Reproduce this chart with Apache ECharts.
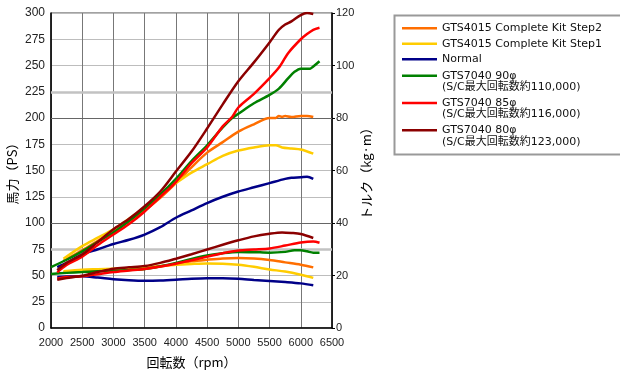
<!DOCTYPE html>
<html>
<head>
<meta charset="utf-8">
<script src="https://cdn.jsdelivr.net/npm/echarts@6/dist/echarts.min.js"></script>
<style>html,body{margin:0;padding:0;background:#fff;}#c{width:620px;height:375px;}</style>
</head>
<body>
<div id="c"></div>
<script>
// ---- data (rpm, value) ----
const nameStep2 = 'GTS4015 Complete Kit Step2';
const nameStep1 = 'GTS4015 Complete Kit Step1';
const nameNormal = 'Normal';
const name90 = 'GTS7040 90φ\n(S/C最大回転数約110,000)';
const name85 = 'GTS7040 85φ\n(S/C最大回転数約116,000)';
const name80 = 'GTS7040 80φ\n(S/C最大回転数約123,000)';

const xTicks = [2000, 6500, 500];
const psTicks = [0, 300, 25];
const tqTicks = [0, 120, 20];

const psStep2 = [[2200,64],[2500,74],[2750,83],[3000,92],[3250,102],[3500,112],[3750,124],[4000,138],[4250,153],[4500,167],[4750,177],[5000,187],[5250,194],[5500,200],[5600,200],[5650,202],[5700,201],[5750,202],[5850,201],[6000,202],[6100,202],[6200,201]];
const tqStep2 = [[2200,21.2],[2500,21.8],[2750,22.1],[3000,22.3],[3250,22.4],[3500,22.6],[3750,23.4],[4000,24.5],[4250,25.4],[4500,26.0],[4750,26.5],[5000,26.7],[5250,26.5],[5500,25.9],[5750,25.0],[6000,24.1],[6200,23.1]];

const psStep1 = [[2200,66],[2500,78],[2750,86],[3000,94],[3250,104],[3500,115],[3750,127],[4000,138],[4250,148],[4500,156],[4750,164],[5000,169],[5250,172],[5500,174],[5600,174],[5700,172],[5850,171],[6000,170],[6200,166]];
const tqStep1 = [[2200,21.6],[2500,22.2],[2750,22.4],[3000,22.6],[3250,22.8],[3500,23.1],[3750,23.6],[4000,24.1],[4250,24.4],[4500,24.6],[4750,24.5],[5000,24.1],[5250,23.3],[5500,22.3],[5750,21.5],[6000,20.3],[6200,19.1]];

const psNormal = [[2100,58],[2250,62],[2500,70],[2750,75],[3000,80],[3250,84],[3500,89],[3750,96],[4000,105],[4250,112],[4500,119],[4750,125],[5000,130],[5250,134],[5500,138],[5750,142],[5850,143],[6000,143.5],[6100,144],[6200,142]];
const tqNormal = [[2100,19.4],[2250,19.6],[2500,19.7],[2750,19.2],[3000,18.6],[3250,18.2],[3500,18.0],[3750,18.1],[4000,18.4],[4250,18.8],[4500,19.0],[4750,19.0],[5000,18.8],[5250,18.3],[5500,17.9],[5750,17.5],[6000,17.0],[6200,16.3]];

const ps90 = [[2000,58],[2250,65],[2500,73],[2750,82],[3000,91],[3250,102],[3500,114],[3750,127],[4000,142],[4250,159],[4500,174],[4750,191],[4900,200],[5000,204],[5250,214],[5500,222],[5650,228],[5800,238],[5900,244],[6000,247],[6150,247],[6200,249],[6300,254]];
const tq90 = [[2000,20.6],[2250,21.0],[2500,21.3],[2750,21.6],[3000,21.8],[3250,22.1],[3500,22.5],[3750,23.5],[4000,24.8],[4250,26.3],[4500,27.6],[4750,28.5],[5000,29.0],[5250,28.9],[5500,28.7],[5750,29.0],[5900,29.6],[6000,29.6],[6100,29.2],[6200,28.7],[6300,28.7]];

const ps85 = [[2100,53],[2250,60],[2500,68],[2750,79],[3000,89],[3250,99],[3500,111],[3750,125],[4000,139],[4250,157],[4500,172],[4750,192],[4900,201],[5000,210],[5250,223],[5500,238],[5650,248],[5800,262],[6000,275],[6100,280],[6200,284],[6300,286]];
const tq85 = [[2100,18.8],[2250,19.4],[2500,19.7],[2750,20.5],[3000,21.3],[3250,21.9],[3500,22.5],[3750,23.4],[4000,24.5],[4250,25.8],[4500,27.2],[4750,28.5],[5000,29.5],[5250,29.9],[5500,30.3],[5750,31.4],[6000,32.6],[6200,33.0],[6300,32.5]];

const ps80 = [[2100,55],[2250,62],[2500,70],[2750,82],[3000,94],[3250,104],[3500,116],[3750,130],[4000,149],[4250,168],[4500,190],[4750,213],[5000,235],[5250,253],[5500,272],[5650,284],[5750,289],[5850,292],[6000,298],[6100,300],[6200,299]];
const tq80 = [[2100,18.4],[2250,19.0],[2500,19.9],[2750,21.3],[3000,22.6],[3250,23.1],[3500,23.6],[3750,24.8],[4000,26.4],[4250,28.1],[4500,29.9],[4750,31.7],[5000,33.4],[5250,34.9],[5500,35.9],[5700,36.4],[5850,36.2],[6000,35.8],[6200,34.3]];

const darkLines = [100, 200];
const thickLines = [75, 225];

// ---- chart ----
const colors = {};
colors[nameStep2] = '#ff6e00';
colors[nameStep1] = '#ffcc00';
colors[nameNormal] = '#000088';
colors[name90] = '#008000';
colors[name85] = '#ff0000';
colors[name80] = '#8b0000';

const curves = [
  [nameStep2, psStep2, tqStep2],
  [nameStep1, psStep1, tqStep1],
  [nameNormal, psNormal, tqNormal],
  [name90, ps90, tq90],
  [name85, ps85, tq85],
  [name80, ps80, tq80]
];

const series = [];
curves.forEach(function (c, i) {
  [c[1], c[2]].forEach(function (d, k) {
    series.push({
      type: 'line', name: c[0], data: d, yAxisIndex: k,
      symbol: 'none', smooth: 0.3, z: 3 + i,
      lineStyle: { color: colors[c[0]], width: 2.5 },
      itemStyle: { color: colors[c[0]] },
      emphasis: { disabled: true }
    });
  });
});
series[0].markLine = {
  silent: true, symbol: 'none', z: 1, animation: false,
  label: { show: false },
  data: darkLines.map(v => ({ yAxis: v, lineStyle: { color: '#666', width: 1, type: 'solid' } }))
    .concat(thickLines.map(v => ({ yAxis: v, lineStyle: { color: '#c2c2c2', width: 2.5, type: 'solid' } })))
};

const legendFont = { fontFamily: 'DejaVu Sans, Noto Sans CJK JP', fontSize: 11, color: '#111' };
const plain = v => String(v);

const chart = echarts.init(document.getElementById('c'), null, { renderer: 'canvas' });
chart.setOption({
  animation: false,
  backgroundColor: '#fff',
  grid: { left: 51, right: 288, top: 13, bottom: 47, show: true, borderColor: '#444', borderWidth: 1 },
  xAxis: {
    type: 'value', min: xTicks[0], max: xTicks[1], interval: xTicks[2],
    name: '回転数（rpm）', nameLocation: 'middle', nameGap: 28,
    nameTextStyle: { fontFamily: 'Noto Sans CJK JP', fontSize: 13, color: '#000' },
    axisLine: { lineStyle: { color: '#000', width: 1.5 } },
    axisTick: { show: false },
    axisLabel: { fontFamily: 'Liberation Sans', fontSize: 11, color: '#222', margin: 9, formatter: plain },
    splitLine: { show: true, lineStyle: { color: '#777', width: 1 } }
  },
  yAxis: [{
    type: 'value', min: psTicks[0], max: psTicks[1], interval: psTicks[2],
    name: '馬力（PS）', nameLocation: 'middle', nameGap: 32, nameRotate: 90,
    nameTextStyle: { fontFamily: 'Noto Sans CJK JP', fontSize: 13, color: '#000' },
    axisLine: { show: true, lineStyle: { color: '#000', width: 1.5 } },
    axisTick: { show: false },
    axisLabel: { fontFamily: 'Liberation Sans', fontSize: 12, color: '#222', margin: 6, formatter: plain },
    splitLine: { show: true, lineStyle: { color: '#bdbdbd', width: 1 } }
  }, {
    type: 'value', position: 'right', min: tqTicks[0], max: tqTicks[1], interval: tqTicks[2],
    name: 'トルク（kg·m）', nameLocation: 'middle', nameGap: 28, nameRotate: 90,
    nameTextStyle: { fontFamily: 'Noto Sans CJK JP', fontSize: 13, color: '#000' },
    axisLine: { show: true, lineStyle: { color: '#000', width: 1.5 } },
    axisTick: { show: true, length: 3, lineStyle: { color: '#000' } },
    axisLabel: { fontFamily: 'Liberation Sans', fontSize: 11, color: '#222', margin: 4, formatter: plain },
    splitLine: { show: false }
  }],
  legend: [{
    orient: 'vertical', left: 402, top: 22.3, padding: 0, itemGap: 3.5,
    itemWidth: 35, itemHeight: 2.5, icon: 'rect', selectedMode: false,
    data: [nameStep2, nameStep1, nameNormal],
    textStyle: Object.assign({ lineHeight: 12 }, legendFont)
  }, {
    orient: 'vertical', left: 402, top: 58.5, padding: 0, itemGap: -7.2,
    itemWidth: 35, itemHeight: 2.5, icon: 'rect', selectedMode: false,
    data: [name90, name85, name80],
    formatter: function (n) { return '\n' + n; },
    textStyle: Object.assign({ lineHeight: 11.5 }, legendFont)
  }],
  graphic: [{
    type: 'rect', left: 392, top: 13, silent: true,
    shape: { width: 240, height: 139 },
    style: { fill: 'none', stroke: '#999', lineWidth: 2 }
  }],
  series: series
});
</script>
</body>
</html>
